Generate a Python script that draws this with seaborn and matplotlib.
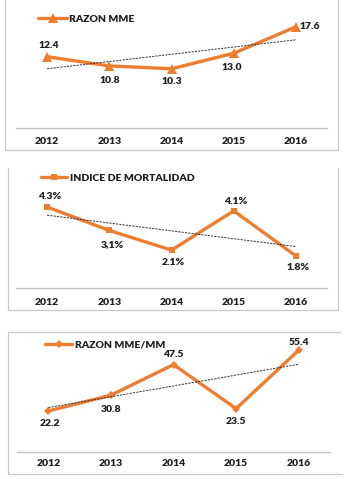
import numpy as np
import pandas as pd
import matplotlib
matplotlib.use("Agg")
import matplotlib.pyplot as plt
from matplotlib.lines import Line2D
import seaborn as sns

# ---------------- data ----------------
years = ["2012", "2013", "2014", "2015", "2016"]

razon_mme = [12.4, 10.8, 10.3, 13.0, 17.6]
razon_mme_labels = ["12.4", "10.8", "10.3", "13.0", "17.6"]

indice_mort = [4.3, 3.1, 2.1, 4.1, 1.8]
indice_mort_labels = ["4.3%", "3,1%", "2.1%", "4.1%", "1.8%"]

razon_mme_mm = [22.2, 30.8, 47.5, 23.5, 55.4]
razon_mme_mm_labels = ["22.2", "30.8", "47.5", "23.5", "55.4"]

series_names = ["RAZON MME", "INDICE DE MORTALIDAD", "RAZON MME/MM"]

# ---------------- style ----------------
sns.set_theme(style="white")
plt.rcParams["font.family"] = ["Lato", "DejaVu Sans"]

ORANGE = "#ED7D31"
TXT = "#1f1f1f"
GRID = "#BFBFBF"
FS = 7.5
W, H = 347, 479

fig = plt.figure(figsize=(W / 100, H / 100), dpi=100)


def rect(left, right, bottom, top):
    return [left / W, 1 - bottom / H, (right - left) / W, (bottom - top) / H]


def fx(x):
    return x / W


def fy(y):
    return 1 - y / H


# frames (figure-level decoration)
frame_segments = [
    # panel 1: left, right, bottom
    ((5, 5), (-2, 149.5)), ((337.5, 337.5), (-2, 149.5)), ((5, 337.5), (149.5, 149.5)),
    # panel 2: left, right, bottom
    ((8, 8), (168, 310)), ((337.5, 337.5), (168, 310)), ((8, 337.5), (310, 310)),
    # panel 3: top, left, bottom
    ((8, 340), (331.5, 331.5)), ((8, 8), (331.5, 473.5)), ((8, 342), (473.5, 473.5)),
]
for xs, ys in frame_segments:
    fig.add_artist(Line2D([fx(v) for v in xs], [fy(v) for v in ys],
                          color="#C8C8C8", lw=0.9, transform=fig.transFigure))

panels = [
    dict(vals=razon_mme, labels=razon_mme_labels, name=series_names[0], marker="^", ms=6.5,
         rect=rect(16, 327, 128, 13), ylim=(0, 20), tickpad=6.5,
         leg=(38, 19, 2.8, 0.2),
         offs=[(2, 11, "center"), (0, -15, "center"), (0, -13, "center"), (-2, -14, "center"), (4, 0, "left")]),
    dict(vals=indice_mort, labels=indice_mort_labels, name=series_names[1], marker="s", ms=4.5,
         rect=rect(16, 327, 288.3, 190.3), ylim=(0.15, 5.15), tickpad=6.7,
         leg=(40.7, 178.3, 2.5, 0.3),
         offs=[(2, 10, "center"), (3, -14, "center"), (2, -12, "center"), (2, 9, "center"), (2, -12, "center")]),
    dict(vals=razon_mme_mm, labels=razon_mme_mm_labels, name=series_names[2], marker="D", ms=4.0,
         rect=rect(17, 330, 451.7, 341.7), ylim=(0, 60), tickpad=5.3,
         leg=(45, 345, 2.6, 0.28),
         offs=[(2, -13, "center"), (0, -14, "center"), (0, 10, "center"), (0, -13, "center"), (0, 8, "center")]),
]

for p in panels:
    ax = fig.add_axes(p["rect"])
    df = pd.DataFrame({"pos": np.arange(len(years)), "val": p["vals"]})
    sns.lineplot(data=df, x="pos", y="val", ax=ax, color=ORANGE, lw=2.4,
                 marker=p["marker"], markersize=p["ms"], markeredgewidth=0,
                 markerfacecolor=ORANGE, label=p["name"], legend=False)
    sns.regplot(data=df, x="pos", y="val", ax=ax, scatter=False, ci=None, truncate=True,
                line_kws=dict(color="#303030", lw=0.7, ls=(0, (2.2, 1.2))))
    ax.set_xlim(-0.5, len(years) - 0.5)
    ax.set_ylim(*p["ylim"])
    ax.set_xticks(np.arange(len(years)))
    ax.set_xticklabels(years)
    ax.set_yticks([])
    ax.set_xlabel("")
    ax.set_ylabel("")
    ax.patch.set_alpha(0)
    for s in ["top", "right", "left"]:
        ax.spines[s].set_visible(False)
    ax.spines["bottom"].set_color(GRID)
    ax.spines["bottom"].set_linewidth(1.0)
    ax.tick_params(axis="x", length=0, pad=p["tickpad"], labelsize=FS, labelcolor=TXT)
    for t in ax.get_xticklabels():
        t.set_fontweight("heavy")

    for i, (v, lab) in enumerate(zip(p["vals"], p["labels"])):
        dx, dy, ha = p["offs"][i]
        ax.annotate(lab, (i, v), xytext=(dx * 0.72, dy * 0.72), textcoords="offset points",
                    ha=ha, va="center", fontsize=FS, fontweight="heavy", color=TXT)

    lx, ly, hl, htp = p["leg"]
    handles, labels = ax.get_legend_handles_labels()
    leg = ax.legend(handles[:1], labels[:1], loc="center left",
                    bbox_to_anchor=(fx(lx), fy(ly)), bbox_transform=fig.transFigure,
                    frameon=False, borderpad=0, borderaxespad=0,
                    handlelength=hl, handletextpad=htp, fontsize=FS)
    for t in leg.get_texts():
        t.set_fontweight("heavy")
        t.set_color(TXT)

fig.savefig("out.png", dpi=100)
